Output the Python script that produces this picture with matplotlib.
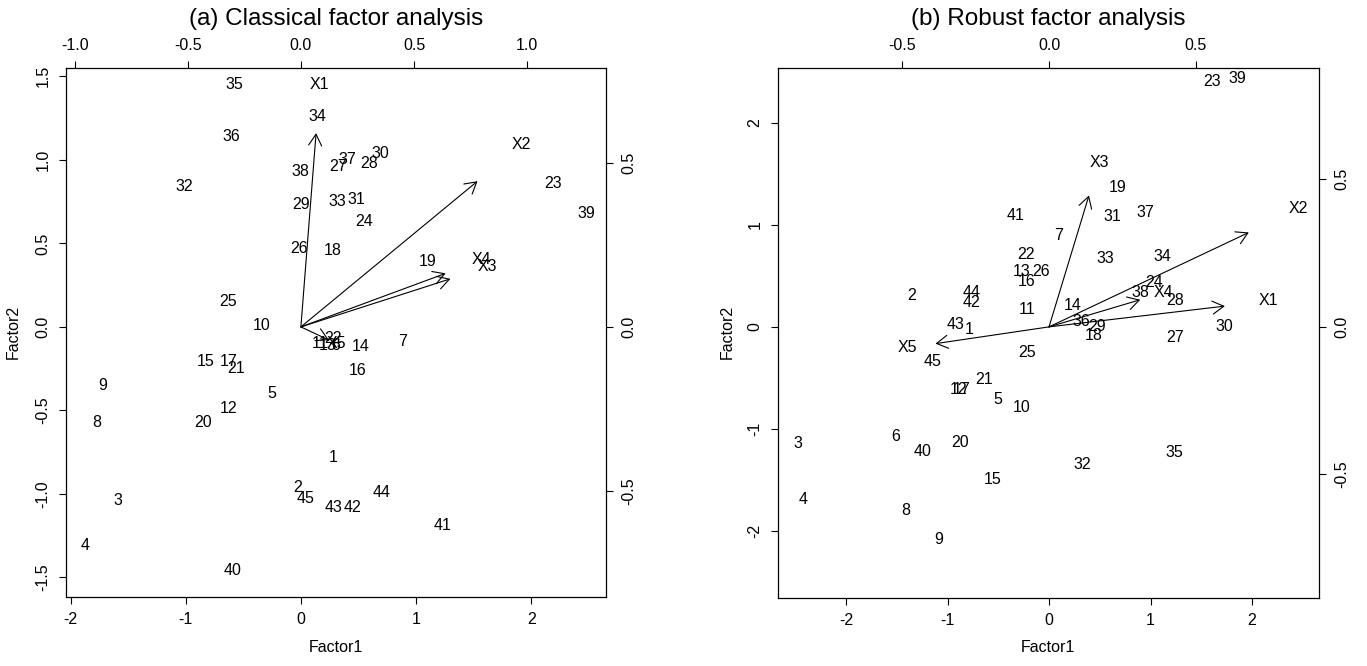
import matplotlib
matplotlib.use("Agg")
import matplotlib.pyplot as plt

plt.rcParams['font.family'] = ['Liberation Sans', 'DejaVu Sans']

# ---------------------------------------------------------------------------
# Data: factor scores (observations 1..45) and loadings (X1..X5)
# ---------------------------------------------------------------------------
obs_labels = [str(i) for i in range(1, 46)]
var_labels = ["X1", "X2", "X3", "X4", "X5"]

# (a) classical factor analysis
cls_factor1 = [0.28, -0.03, -1.59, -1.87, -0.25, 0.30, 0.88, -1.77, -1.72, -0.34,
               0.17, -0.63, 0.23, 0.52, -0.83, 0.49, -0.63, 0.28, 1.10, -0.85,
               -0.56, 0.28, 2.19, 0.55, -0.63, -0.02, 0.32, 0.59, 0.00, 0.69,
               0.48, -1.01, 0.32, 0.14, -0.58, -0.60, 0.40, 0.00, 2.48, -0.59,
               1.23, 0.45, 0.28, 0.70, 0.04]
cls_factor2 = [-0.78, -0.96, -1.04, -1.31, -0.40, -0.11, -0.09, -0.57, -0.35, 0.01,
               -0.10, -0.49, -0.11, -0.12, -0.21, -0.26, -0.21, 0.46, 0.39, -0.57,
               -0.25, -0.07, 0.86, 0.63, 0.15, 0.47, 0.96, 0.98, 0.73, 1.04,
               0.76, 0.84, 0.75, 1.26, 1.45, 1.14, 1.00, 0.93, 0.68, -1.46,
               -1.19, -1.08, -1.08, -0.99, -1.03]
cls_load1 = [0.084, 0.976, 0.826, 0.800, 0.155]
cls_load2 = [0.738, 0.555, 0.183, 0.204, -0.050]

# (b) robust factor analysis
rob_factor1 = [-0.79, -1.35, -2.47, -2.42, -0.50, -1.51, 0.09, -1.41, -1.09, -0.27,
               -0.22, -0.89, -0.27, 0.23, -0.56, -0.22, -0.86, 0.44, 0.68, -0.88,
               -0.64, -0.23, 1.61, 1.04, -0.22, -0.08, 1.24, 1.24, 0.47, 1.73,
               0.62, 0.33, 0.55, 1.12, 1.23, 0.32, 0.95, 0.90, 1.86, -1.25,
               -0.33, -0.76, -0.92, -0.76, -1.15]
rob_factor2 = [-0.03, 0.31, -1.14, -1.69, -0.71, -1.08, 0.90, -1.80, -2.09, -0.79,
               0.17, -0.61, 0.54, 0.21, -1.50, 0.45, -0.61, -0.08, 1.37, -1.13,
               -0.52, 0.71, 2.41, 0.44, -0.25, 0.54, -0.10, 0.26, 0.00, 0.00,
               1.08, -1.35, 0.67, 0.69, -1.23, 0.05, 1.12, 0.34, 2.44, -1.22,
               1.09, 0.24, 0.02, 0.34, -0.34]
rob_load1 = [0.748, 0.850, 0.170, 0.388, -0.483]
rob_load2 = [0.088, 0.400, 0.557, 0.115, -0.071]

W, H = 1367, 666
FS = 11.5


def px_box(left, right, top, bottom):
    return [left / W, 1 - bottom / H, (right - left) / W, (bottom - top) / H]


def biplot(fig, box, f1, f2, l1, l2, xlim, ylim, ratio,
           xticks, yticks, top_ticks, right_ticks):
    ax = fig.add_axes(box)
    ax.set_xlim(*xlim)
    ax.set_ylim(*ylim)
    for s, lab in zip(zip(f1, f2), obs_labels):
        ax.text(s[0], s[1], lab, ha="center", va="center", fontsize=FS)
    ax.set_xticks(xticks)
    ax.set_yticks(yticks)
    ax.set_xticklabels([f"{t:g}" for t in xticks])
    ax.set_yticklabels([f"{t:.1f}" if isinstance(t, float) else f"{t}" for t in yticks],
                       rotation=90, va="center")
    ax.tick_params(direction="out", length=5, width=0.8, labelsize=FS, pad=6)
    for sp in ax.spines.values():
        sp.set_linewidth(0.9)

    # loadings on their own scale (top / right axes)
    ax2 = fig.add_axes(box, frameon=False)
    ax2.set_xlim(xlim[0] / ratio, xlim[1] / ratio)
    ax2.set_ylim(ylim[0] / ratio, ylim[1] / ratio)
    ax2.xaxis.tick_top()
    ax2.yaxis.tick_right()
    ax2.set_xticks(top_ticks)
    ax2.set_yticks(right_ticks)
    ax2.set_xticklabels([f"{t:.1f}" for t in top_ticks])
    ax2.set_yticklabels([f"{t:.1f}" for t in right_ticks], rotation=90, va="center")
    ax2.tick_params(direction="out", length=5, width=0.8, labelsize=FS, pad=6)
    for x, y, lab in zip(l1, l2, var_labels):
        ax2.annotate("", xy=(0.8 * x, 0.8 * y), xytext=(0, 0),
                     arrowprops=dict(arrowstyle="->,head_length=0.81,head_width=0.47",
                                     lw=0.8, color="black", shrinkA=0, shrinkB=0,
                                     mutation_scale=10))
        ax2.text(x, y, lab, ha="center", va="center", fontsize=FS)
    return ax


fig = plt.figure(figsize=(W / 100, H / 100), dpi=100)

biplot(fig, px_box(66, 606, 68, 597), cls_factor1, cls_factor2, cls_load1, cls_load2,
       (-2.04, 2.65), (-1.617, 1.55), 1.965,
       [-2, -1, 0, 1, 2], [-1.5, -1.0, -0.5, 0.0, 0.5, 1.0, 1.5],
       [-1.0, -0.5, 0.0, 0.5, 1.0], [-0.5, 0.0, 0.5])
biplot(fig, px_box(778, 1319, 68, 598), rob_factor1, rob_factor2, rob_load1, rob_load2,
       (-2.67, 2.66), (-2.66, 2.54), 2.895,
       [-2, -1, 0, 1, 2], [-2, -1, 0, 1, 2],
       [-0.5, 0.0, 0.5], [-0.5, 0.0, 0.5])

# titles and axis names
fig.text(336 / W, 1 - 25 / H, "(a) Classical factor analysis", ha="center",
         va="baseline", fontsize=17.5)
fig.text(1048 / W, 1 - 25 / H, "(b) Robust factor analysis", ha="center",
         va="baseline", fontsize=17.5)
fig.text(336 / W, 1 - 648 / H, "Factor1", ha="center", va="center", fontsize=FS)
fig.text(1048 / W, 1 - 648 / H, "Factor1", ha="center", va="center", fontsize=FS)
fig.text(13 / W, 1 - 332 / H, "Factor2", ha="center", va="center", rotation=90,
         fontsize=FS)
fig.text(727 / W, 1 - 332 / H, "Factor2", ha="center", va="center", rotation=90,
         fontsize=FS)

fig.savefig("out.png", dpi=100)
